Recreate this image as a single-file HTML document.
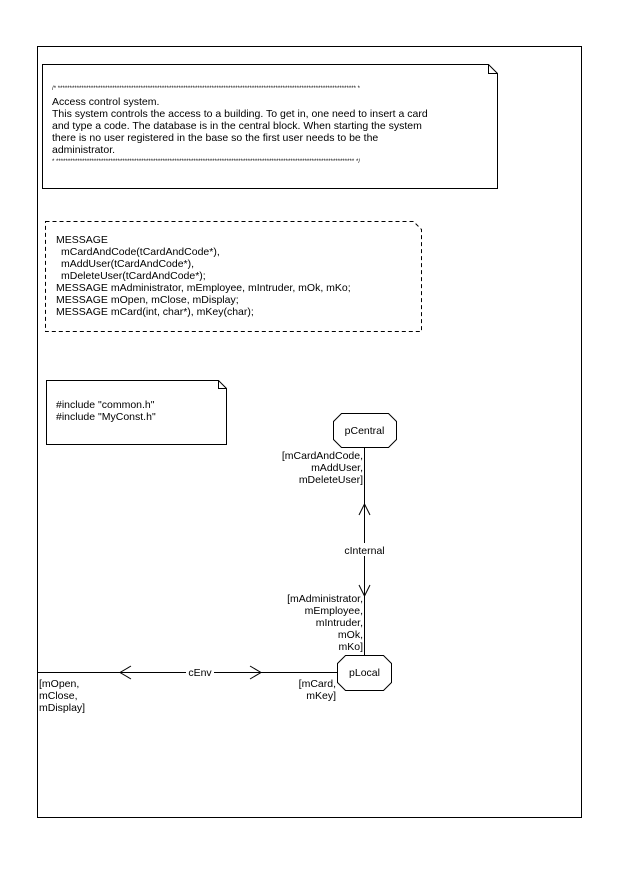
<!DOCTYPE html>
<html><head><style>
body{margin:0;background:#fff;}
svg text{font-family:"Liberation Sans",sans-serif;font-size:10.5px;fill:#000;}
</style></head><body>
<svg width="620" height="866" xmlns="http://www.w3.org/2000/svg">
<rect x="37.5" y="46.5" width="544" height="771" fill="none" stroke="#000"/>
<!-- note 1 -->
<path d="M42.5 64.5 H488.5 L497.5 73.5 V188.5 H42.5 Z M488.5 64.5 V73.5 H497.5" fill="none" stroke="#000"/>
<text x="52" y="90" style="font-size:6px" textLength="308" lengthAdjust="spacing">/* ****************************************************************************************************************************** *</text>
<text x="52" y="105">Access control system.</text>
<text x="52" y="117">This system controls the access to a building. To get in, one need to insert a card</text>
<text x="52" y="129">and type a code. The database is in the central block. When starting the system</text>
<text x="52" y="141">there is no user registered in the base so the first user needs to be the</text>
<text x="52" y="153">administrator.</text>
<text x="52" y="163" style="font-size:6px" textLength="308" lengthAdjust="spacing">* ****************************************************************************************************************************** */</text>
<!-- dashed note -->
<path d="M45.5 221.5 H413.5 L421.5 229.5 V331.5 H45.5 Z" fill="none" stroke="#000" stroke-dasharray="4,3"/>
<text x="56" y="243">MESSAGE</text>
<text x="61" y="255">mCardAndCode(tCardAndCode*),</text>
<text x="61" y="267">mAddUser(tCardAndCode*),</text>
<text x="61" y="279">mDeleteUser(tCardAndCode*);</text>
<text x="56" y="291">MESSAGE mAdministrator, mEmployee, mIntruder, mOk, mKo;</text>
<text x="56" y="303">MESSAGE mOpen, mClose, mDisplay;</text>
<text x="56" y="315">MESSAGE mCard(int, char*), mKey(char);</text>
<!-- include note -->
<path d="M46.5 380.5 H218.5 L226.5 388.5 V444.5 H46.5 Z M218.5 380.5 V388.5 H226.5" fill="none" stroke="#000"/>
<text x="56" y="408">#include "common.h"</text>
<text x="56" y="420">#include "MyConst.h"</text>
<!-- pCentral -->
<path d="M341.5 413.5 H388.5 L396.5 421.5 V439.5 L388.5 447.5 H341.5 L333.5 439.5 V421.5 Z" fill="#fff" stroke="#000"/>
<text x="364.5" y="434" text-anchor="middle">pCentral</text>
<!-- pLocal -->
<path d="M345.5 655.5 H383.5 L391.5 663.5 V682.5 L383.5 690.5 H345.5 L337.5 682.5 V663.5 Z" fill="#fff" stroke="#000"/>
<text x="364.5" y="676" text-anchor="middle">pLocal</text>
<!-- vertical channel -->
<line x1="364.5" y1="447" x2="364.5" y2="655" stroke="#000"/>
<path d="M359 515 L364.5 504 L370 515 M359 585 L364.5 596 L370 585" fill="none" stroke="#000"/>
<rect x="338" y="543" width="52" height="13" fill="#fff"/>
<text x="364.5" y="554" text-anchor="middle">cInternal</text>
<text x="363" y="459" text-anchor="end">[mCardAndCode,</text>
<text x="363" y="471" text-anchor="end">mAddUser,</text>
<text x="363" y="483" text-anchor="end">mDeleteUser]</text>
<text x="363" y="602" text-anchor="end">[mAdministrator,</text>
<text x="363" y="614" text-anchor="end">mEmployee,</text>
<text x="363" y="626" text-anchor="end">mIntruder,</text>
<text x="363" y="638" text-anchor="end">mOk,</text>
<text x="363" y="650" text-anchor="end">mKo]</text>
<!-- horizontal channel -->
<line x1="37" y1="672.5" x2="337" y2="672.5" stroke="#000"/>
<path d="M131 666 L120 672.5 L131 679 M250 666 L261 672.5 L250 679" fill="none" stroke="#000"/>
<rect x="186" y="666" width="28" height="12" fill="#fff"/>
<text x="200" y="676" text-anchor="middle">cEnv</text>
<text x="39" y="687">[mOpen,</text>
<text x="39" y="699">mClose,</text>
<text x="39" y="711">mDisplay]</text>
<text x="336" y="687" text-anchor="end">[mCard,</text>
<text x="336" y="699" text-anchor="end">mKey]</text>
</svg>
</body></html>
